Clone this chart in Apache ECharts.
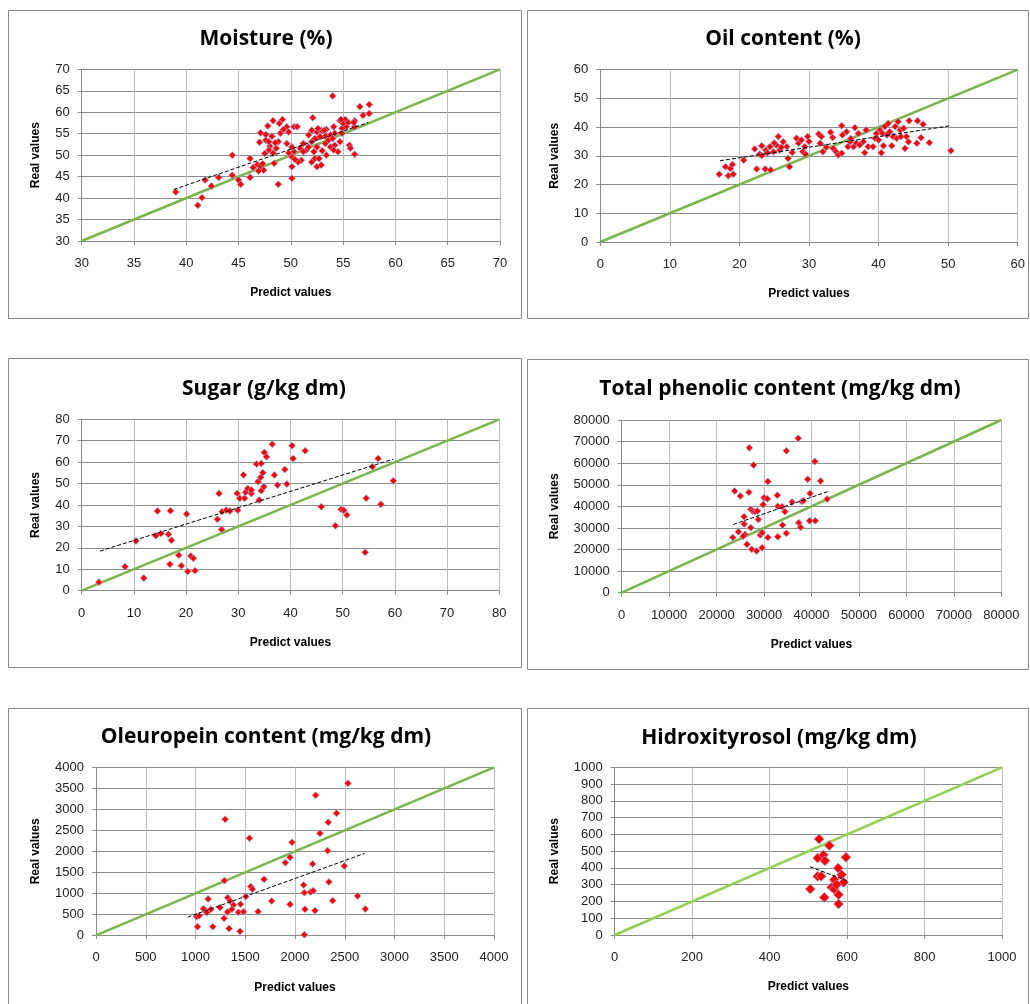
<!DOCTYPE html>
<html>
<head>
<meta charset="utf-8">
<title>Predicted vs real values</title>
<script src="https://cdn.jsdelivr.net/npm/echarts@6/dist/echarts.min.js"></script>
<style>
  html, body { margin: 0; padding: 0; background: #ffffff; }
  #chart { width: 1030px; height: 1004px; }
</style>
</head>
<body>
<div id="chart"></div>
<script>
// ---- Data: [predicted, real] pairs for each quality parameter ----
const moisturePoints = [
  [39.0,41.4],[41.1,38.3],[41.5,40.1],[41.8,44.2],[42.4,42.8],[43.1,44.8],[44.4,50.0],[44.4,45.3],
  [45.0,44.2],[45.2,43.2],[46.1,49.2],[46.1,44.9],[46.4,47.1],[46.8,47.8],[47.1,47.4],[47.4,46.5],
  [54.0,63.8],[56.6,61.3],[57.5,61.8],[57.5,59.7],[56.9,59.3],[52.1,58.7],[48.3,58.0],[49.2,58.3],
  [48.9,57.4],[47.8,56.8],[49.6,56.6],[50.3,56.6],[50.6,56.6],[47.1,55.2],[49.0,55.1],[49.3,56.0],
  [49.8,55.4],[48.2,54.4],[48.8,53.1],[47.6,53.5],[47.0,53.0],[48.0,52.1],[47.9,51.2],[48.3,50.5],
  [47.5,50.4],[49.8,50.5],[50.3,50.8],[49.6,52.7],[52.0,55.8],[52.5,55.4],[52.9,55.8],[53.4,56.0],
  [54.7,58.0],[55.2,58.3],[56.1,58.0],[56.1,56.6],[55.3,56.6],[54.9,56.2],[54.1,56.6],[54.2,55.1],
  [53.8,54.7],[53.3,54.4],[52.8,54.3],[52.3,53.9],[51.7,54.7],[52.0,53.1],[53.3,52.7],[53.8,51.9],
  [54.2,52.3],[54.7,53.1],[54.5,50.8],[54.1,51.2],[53.4,50.0],[55.6,52.3],[55.7,51.6],[56.1,50.2],
  [51.5,51.2],[50.9,51.6],[51.2,50.8],[52.2,50.8],[52.3,49.2],[52.7,49.2],[52.0,48.4],[52.5,47.3],
  [52.9,47.7],[51.0,48.8],[50.7,48.4],[50.1,47.3],[50.1,44.6],[48.8,43.2],[48.4,48.1],[46.1,44.8],
  [51.2,52.7],[51.7,51.9],[52.5,51.9],[53.0,51.0],[53.6,53.5],[54.0,53.9],[54.9,55.1],[55.0,57.4],
  [55.5,57.6],[52.6,56.2],[53.2,55.8],[50.1,51.9],[50.1,49.6],[50.4,49.0],[48.6,51.6],[48.5,52.9],
  [47.9,53.1],[47.6,54.8],[46.9,46.3],[47.3,48.0],[54.8,58.3],[56.0,57.6]
];
const oilPoints = [
  [17.1,23.6],[18.0,26.2],[18.4,23.1],[18.7,25.6],[19.0,27.0],[19.1,23.6],[20.6,28.5],[22.2,32.4],
  [22.5,25.4],[22.9,30.6],[23.2,33.5],[23.7,25.4],[23.8,32.0],[24.4,33.2],[24.5,25.1],[24.9,31.4],
  [25.3,33.8],[25.6,36.7],[25.8,32.0],[26.3,34.9],[26.8,33.2],[27.0,29.1],[27.2,26.2],[27.6,31.2],
  [28.2,36.1],[28.5,34.4],[28.9,35.5],[29.1,31.4],[29.4,33.2],[29.5,30.6],[29.8,36.7],[31.4,37.6],
  [31.6,34.4],[31.8,36.7],[32.0,31.4],[33.1,38.2],[33.4,36.4],[33.5,32.6],[33.9,31.4],[34.2,30.3],
  [34.7,30.9],[34.7,40.5],[34.8,37.3],[35.4,38.4],[35.6,33.2],[35.9,34.9],[36.6,39.8],[36.4,33.2],
  [36.8,34.4],[37.1,37.8],[37.3,33.8],[37.8,34.9],[38.0,31.1],[38.2,39.0],[38.5,33.2],[39.2,33.2],
  [39.5,36.1],[39.7,37.8],[40.0,35.5],[40.2,39.0],[40.4,31.1],[40.7,33.5],[40.9,40.2],[41.2,37.3],
  [41.4,41.3],[41.6,38.4],[41.9,33.5],[42.1,36.7],[42.4,40.2],[42.6,36.1],[42.8,41.9],[43.1,39.0],
  [43.2,36.7],[43.6,39.6],[43.8,32.6],[44.0,36.7],[44.3,34.9],[44.4,42.2],[45.5,34.4],[45.6,42.2],
  [46.1,36.3],[46.4,41.0],[47.3,34.6],[50.4,31.8],[23.2,30.1],[24.0,31.0],[25.0,34.5],[26.0,33.0],
  [30.0,35.0],[32.5,33.0],[36.0,36.0],[40.5,38.0]
];
const sugarPoints = [
  [3.3,4.0],[8.3,11.2],[11.9,5.9],[10.4,23.2],[14.5,37.2],[14.2,25.7],[15.2,26.7],[17.0,37.3],
  [16.6,26.3],[17.2,23.5],[16.9,12.4],[18.6,16.6],[19.1,11.7],[20.1,35.8],[20.3,9.0],[20.9,16.2],
  [21.4,15.1],[21.7,9.3],[26.0,33.3],[26.3,45.4],[26.8,28.6],[26.9,36.9],[27.7,37.6],[28.4,37.2],
  [29.9,37.6],[29.8,45.4],[30.3,43.1],[31.0,54.0],[31.2,43.1],[31.4,45.9],[31.8,47.7],[32.5,45.4],
  [32.5,47.0],[33.5,59.1],[33.8,50.9],[34.0,42.3],[34.3,52.9],[34.4,59.4],[34.4,46.7],[34.7,55.1],
  [34.9,48.5],[35.0,64.5],[35.4,62.5],[36.5,68.4],[36.9,54.0],[37.5,49.3],[38.9,56.6],[39.3,49.8],
  [40.3,67.7],[40.5,61.7],[42.8,65.3],[45.9,39.2],[48.6,30.3],[49.7,37.9],[50.2,37.6],[50.8,35.3],
  [54.3,17.9],[54.5,43.2],[55.7,57.9],[56.8,61.7],[57.3,40.3],[59.7,51.3]
];
const phenolicPoints = [
  [37200,71500],[26900,67100],[34700,65700],[27800,59100],[40700,60800],[30800,51500],[39200,52500],
  [41900,51700],[23800,47100],[25000,44800],[26800,46500],[30000,44000],[30700,43500],[32800,45100],
  [32900,40000],[33800,39800],[34400,37500],[35900,42000],[38000,42300],[38300,42600],[39700,46000],
  [43300,43400],[27200,38600],[27600,37800],[28100,37500],[25800,35200],[25800,31800],[27200,30100],
  [26000,27000],[28800,33900],[29200,26700],[29600,27800],[30800,25600],[32900,25900],[34700,27500],
  [33900,31300],[37300,32400],[37700,30300],[39600,33300],[40800,33300],[23400,25600],[24600,28200],
  [25600,26200],[26400,22400],[27400,20100],[28400,19300],[29600,20800],[28600,37800],[29800,40800]
];
const oleuropeinPoints = [
  [2532,3619],[2207,3333],[2418,2905],[2334,2690],[1298,2762],[2251,2429],[1542,2310],[1970,2214],
  [2328,2016],[1950,1857],[1903,1730],[2177,1698],[2495,1651],[1689,1333],[1291,1302],[2087,1198],
  [2341,1270],[1555,1159],[1572,1095],[2094,1016],[2157,1032],[2184,1063],[2629,937],[2378,825],
  [1950,738],[1766,817],[1505,921],[1127,865],[1324,897],[1348,817],[1381,722],[1452,738],
  [1247,659],[1080,635],[1154,619],[1114,540],[1321,556],[1365,619],[1431,548],[1482,563],
  [1629,563],[2100,619],[2201,587],[2706,627],[1013,444],[1037,468],[1288,405],[1020,206],
  [1174,206],[1338,159],[1448,95],[2094,16]
];
const hydroxytyrosolPoints = [
  [528,572],[554,533],[524,459],[539,477],[543,443],[597,463],[577,399],[524,350],[533,350],
  [567,330],[586,360],[591,314],[505,274],[560,284],[567,274],[573,300],[541,224],[578,240],[578,185]
];

// Linear trend line end points, [predicted, real]
const moistureTrend = [[38.8,42.0],[57.4,57.6]];
const oilTrend = [[17.2,28.3],[50.4,40.5]];
const sugarTrend = [[3.5,18.5],[59.7,61.4]];
const phenolicTrend = [[23500,31600],[43500,46900]];
const oleuropeinTrend = [[920,430],[2700,1950]];
const hydroxytyrosolTrend = [[504,407],[599,324]];

// Axis ranges: [min, max, interval] (x and y axes share the same range unless noted)
const moistureRange = [30, 70, 5];
const oilRange = [0, 60, 10];
const sugarRange = [0, 80, 10];
const phenolicRange = [0, 80000, 10000];
const oleuropeinRange = [0, 4000, 500];
const hydroxytyrosolXRange = [0, 1000, 200];
const hydroxytyrosolYRange = [0, 1000, 100];

const titles = [
  'Moisture (%)', 'Oil content (%)', 'Sugar (g/kg dm)',
  'Total phenolic content (mg/kg dm)', 'Oleuropein content (mg/kg dm)', 'Hidroxityrosol (mg/kg dm)'
];
const xAxisName = 'Predict values';
const yAxisName = 'Real values';

// ---- Layout ----
const LABEL_FONT = "'Liberation Sans', Arial, sans-serif";
const TITLE_FONT = "'Open Sans', 'Liberation Sans', sans-serif";

const panels = [
  { frame: [8, 10, 513, 308],  grid: [81.7, 69.3, 418.3, 171.7], titleX: 266, titleY: 37,
    pts: moisturePoints, trend: moistureTrend, xr: moistureRange, yr: moistureRange, green: '#79b54a', size: 7 },
  { frame: [527, 10, 501, 308], grid: [600.3, 69.7, 417.4, 172.3], titleX: 783, titleY: 37,
    pts: oilPoints, trend: oilTrend, xr: oilRange, yr: oilRange, green: '#79b54a', size: 7 },
  { frame: [8, 358, 513, 309], grid: [81.7, 419.3, 417.6, 171.4], titleX: 264, titleY: 387,
    pts: sugarPoints, trend: sugarTrend, xr: sugarRange, yr: sugarRange, green: '#79b54a', size: 7 },
  { frame: [527, 359, 501, 310], grid: [621.7, 420, 379.6, 172.7], titleX: 780, titleY: 387,
    pts: phenolicPoints, trend: phenolicTrend, xr: phenolicRange, yr: phenolicRange, green: '#79b54a', size: 7 },
  { frame: [8, 708, 513, 310], grid: [96, 767.3, 398, 168], titleX: 266, titleY: 735,
    pts: oleuropeinPoints, trend: oleuropeinTrend, xr: oleuropeinRange, yr: oleuropeinRange, green: '#79b54a', size: 7 },
  { frame: [527, 708, 501, 310], grid: [614.7, 767.3, 387.3, 167.7], titleX: 779, titleY: 736,
    pts: hydroxytyrosolPoints, trend: hydroxytyrosolTrend, xr: hydroxytyrosolXRange, yr: hydroxytyrosolYRange, green: '#92d050', size: 10 }
];

const plainNumber = v => String(v);

const option = {
  animation: false,
  backgroundColor: '#ffffff',
  title: [], grid: [], xAxis: [], yAxis: [], series: [],
  graphic: []
};

panels.forEach((p, i) => {
  const [gl, gt, gw, gh] = p.grid;
  option.graphic.push({
    type: 'rect', silent: true, z: -10,
    shape: { x: p.frame[0] + 0.5, y: p.frame[1] + 0.5, width: p.frame[2], height: p.frame[3] },
    style: { fill: 'none', stroke: '#8a8a8a', lineWidth: 1 }
  });
  option.title.push({
    text: titles[i], left: p.titleX, top: p.titleY - 12, textAlign: 'center',
    padding: 0,
    textStyle: { fontFamily: TITLE_FONT, fontWeight: 'bold', fontSize: 21, color: '#000', lineHeight: 28 }
  });
  option.grid.push({ left: gl, top: gt, width: gw, height: gh, containLabel: false });

  const axisCommon = {
    axisLine: { show: true, onZero: false, lineStyle: { color: '#8a8a8a', width: 1 } },
    axisTick: { show: true, length: 4, lineStyle: { color: '#8a8a8a' } },
    nameTextStyle: { fontFamily: LABEL_FONT, fontWeight: 'bold', fontSize: 12, color: '#000' }
  };
  const labelStyle = { fontFamily: LABEL_FONT, fontSize: 13, color: '#222', formatter: plainNumber };
  option.xAxis.push(Object.assign({}, axisCommon, {
    gridIndex: i, type: 'value', min: p.xr[0], max: p.xr[1], interval: p.xr[2],
    name: xAxisName, nameLocation: 'middle', nameGap: 46,
    axisLabel: Object.assign({}, labelStyle, { margin: 16 }),
    splitLine: { show: true, lineStyle: { color: '#bcbcbc', width: 1 } }
  }));
  option.yAxis.push(Object.assign({}, axisCommon, {
    gridIndex: i, type: 'value', min: p.yr[0], max: p.yr[1], interval: p.yr[2],
    name: yAxisName, nameLocation: 'middle', nameGap: gl - (p.frame[0] + 34),
    axisLabel: Object.assign({}, labelStyle, { margin: 12 }),
    splitLine: { show: true, lineStyle: { color: '#8c8c8c', width: 1 } }
  }));

  // 1:1 reference line across the full axis range
  const lo = Math.max(p.xr[0], p.yr[0]);
  const hi = Math.min(p.xr[1], p.yr[1]);
  option.series.push({
    type: 'line', xAxisIndex: i, yAxisIndex: i, data: [[lo, lo], [hi, hi]],
    symbol: 'none', silent: true, z: 2,
    lineStyle: { color: p.green, width: 2.5 }
  });
  option.series.push({
    type: 'scatter', xAxisIndex: i, yAxisIndex: i, data: p.pts,
    symbol: 'diamond', symbolSize: p.size, z: 3,
    itemStyle: { color: '#ff0000', borderColor: '#9aa9dc', borderWidth: 0.8, opacity: 1 }
  });
  option.series.push({
    type: 'line', xAxisIndex: i, yAxisIndex: i, data: p.trend,
    symbol: 'none', silent: true, z: 4,
    lineStyle: { color: '#000000', width: 1, type: [4, 2] }
  });
});

const chart = echarts.init(document.getElementById('chart'), null, { renderer: 'canvas' });
chart.setOption(option);
</script>
</body>
</html>
